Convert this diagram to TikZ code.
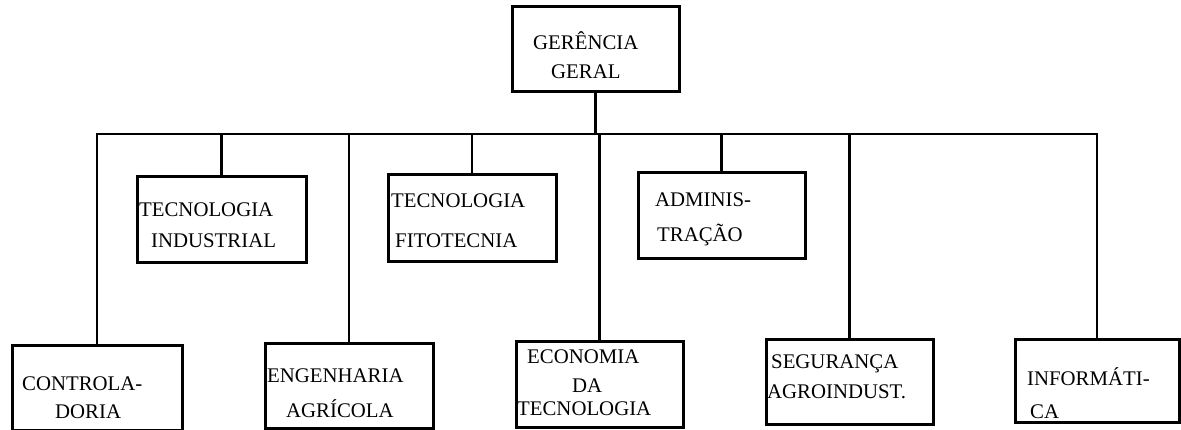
\documentclass[tikz,border=0pt]{standalone}
\usepackage{fontspec}
\setmainfont{Liberation Serif}
\begin{document}
\begin{tikzpicture}[x=1pt,y=-1pt,
  box/.style={draw,line width=3pt,rectangle,inner sep=0pt,outer sep=0pt,anchor=north west},
  conn/.style={line width=2.8pt},
  lbl/.style={anchor=base west,inner sep=0pt,font=\fontsize{20.8}{21}\selectfont}]
\useasboundingbox (0,0) rectangle (1181,430);
% boxes
\node[box,minimum width=167pt,minimum height=85pt] (gg) at (512,7) {};
\node[box,minimum width=169pt,minimum height=86pt] (ti) at (137,177) {};
\node[box,minimum width=168pt,minimum height=87pt] (tf) at (388,175) {};
\node[box,minimum width=167pt,minimum height=86pt] (adm) at (638,173) {};
\node[box,minimum width=170pt,minimum height=84pt] (ctrl) at (12,346) {};
\node[box,minimum width=168pt,minimum height=84pt] (eng) at (265,344) {};
\node[box,minimum width=167pt,minimum height=85pt] (eco) at (516,342) {};
\node[box,minimum width=167pt,minimum height=84pt] (seg) at (766,340) {};
\node[box,minimum width=164pt,minimum height=82pt] (inf) at (1015,340) {};
% labels
\node[lbl] (gg1) at (533,50) {GERÊNCIA};
\node[lbl] (gg2) at (551,79) {GERAL};
\node[lbl] (ti1) at (139,217) {TECNOLOGIA};
\node[lbl] (ti2) at (151,248) {INDUSTRIAL};
\node[lbl] (tf1) at (391,208) {TECNOLOGIA};
\node[lbl] (tf2) at (395,248) {FITOTECNIA};
\node[lbl] (adm1) at (655,207) {ADMINIS-};
\node[lbl] (adm2) at (657,242) {TRAÇÃO};
\node[lbl] (ctrl1) at (22,390) {CONTROLA-};
\node[lbl] (ctrl2) at (55,418) {DORIA};
\node[lbl] (eng1) at (267,382) {ENGENHARIA};
\node[lbl] (eng2) at (286,417) {AGRÍCOLA};
\node[lbl] (eco1) at (527,363) {ECONOMIA};
\node[lbl] (eco2) at (572,392) {DA};
\node[lbl] (eco3) at (517,415) {TECNOLOGIA};
\node[lbl] (seg1) at (771,368) {SEGURANÇA};
\node[lbl] (seg2) at (767,398) {AGROINDUST.};
\node[lbl] (inf1) at (1027,385) {INFORMÁTI-};
\node[lbl] (inf2) at (1030,418) {CA};
% bus
\coordinate (bus) at (0,134);
\draw[conn] (gg.south) -- (gg.south |- bus);
\draw[conn] (ctrl.north) -- (ctrl.north |- bus) -- (inf.north |- bus) -- (inf.north);
\foreach \n in {ti,tf,adm,eng,eco,seg}
  \draw[conn] (\n.north |- bus) -- (\n.north);
\end{tikzpicture}
\end{document}
